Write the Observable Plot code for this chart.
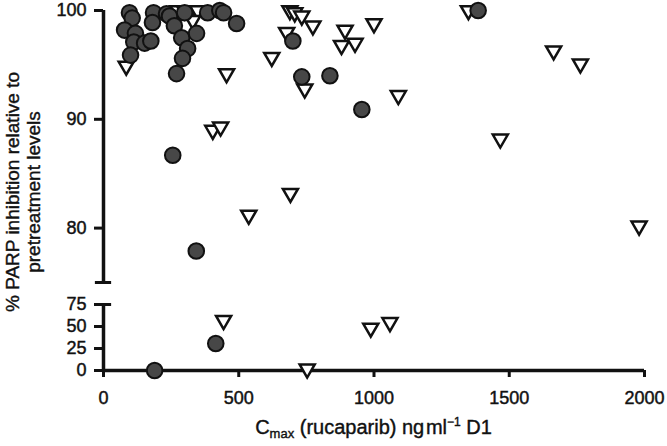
<!DOCTYPE html>
<html>
<head>
<meta charset="utf-8">
<script src="https://cdn.jsdelivr.net/npm/d3@7"></script>
<script src="https://cdn.jsdelivr.net/npm/@observablehq/plot@0.6"></script>
<style>
  body { margin: 0; background: #fff; }
  #wrap { position: relative; width: 667px; height: 446px; font-family: "Liberation Sans", Arial, sans-serif; color: #111; overflow: hidden; }
  #top, #bottom { position: absolute; left: 0; }
  #top { top: 0; }
  #bottom { top: 290px; }
  svg text { stroke: #111; stroke-width: 0.45px; }
  #xlabel { position: absolute; left: 103px; width: 541px; top: 415px; text-align: center; font-size: 20px; line-height: 24px; -webkit-text-stroke: 0.4px #111; }
  #xlabel sub { font-size: 13px; vertical-align: -4px; line-height: 0; }
  #xlabel sup { font-size: 12px; vertical-align: 8px; line-height: 0; }
  #ylabel { position: absolute; width: 320px; height: 42px; left: -137px; top: 171px; text-align: center;
            font-size: 19px; line-height: 21px; transform: rotate(-90deg); transform-origin: 50% 50%; white-space: nowrap; -webkit-text-stroke: 0.4px #111; }
</style>
</head>
<body>
<div id="wrap">
  <div id="top"></div>
  <div id="bottom"></div>
  <div id="ylabel">% PARP inhibition relative to<br>pretreatment levels</div>
  <div id="xlabel">C<sub>max</sub> (rucaparib) ng&#8202;ml<sup>−1</sup> D1</div>
</div>
<script>
// Filled circles (series 1): Cmax (ng/ml) and % PARP inhibition
const circleX = [96, 106, 78, 118, 112, 152, 175, 100, 185, 181, 233, 244, 262, 289, 311, 292, 270, 344, 300, 385, 430, 444, 492, 700, 733, 837, 955, 256, 343, 1385, 189, 415];
const circleY = [99.8, 99.3, 98.2, 97.9, 97.1, 97.0, 97.2, 95.9, 99.8, 98.9, 99.7, 99.5, 98.6, 97.5, 96.5, 95.6, 94.2, 97.9, 99.8, 99.8, 100, 99.8, 98.8, 97.2, 93.9, 94.0, 90.9, 86.7, 77.9, 100, 0, 30.7];

// Open inverted triangles (series 2)
const triX = [84, 274, 300, 326, 348, 330, 455, 404, 433, 622, 689, 707, 733, 774, 677, 744, 893, 880, 930, 1000, 1090, 1349, 1664, 1763, 1467, 537, 691, 1980, 444, 988, 1059, 753];
const triY = [94.9, 100, 100, 100, 100, 99.1, 94.2, 89.0, 89.3, 95.7, 100, 99.8, 99.5, 98.6, 98.0, 92.8, 98.2, 96.8, 97.0, 98.8, 92.2, 100, 96.3, 95.1, 88.2, 81.2, 83.2, 80.2, 57, 48.3, 54.6, 1.9];

// Axes (broken y axis: lower panel 0–75, upper panel 75–100)
const xDomain = [0, 2000];
const xTicks = [0, 500, 1000, 1500, 2000];
const lowerPanel = [0, 75];
const upperPanel = [75, 100];
const lowerTicks = [0, 25, 50, 75];
const upperTicks = [80, 90, 100];
const capHalf = 30;

const circles = circleX.map((x, i) => ({x, y: circleY[i]}));
const tris = triX.map((x, i) => ({x, y: triY[i]}));
const inUpper = d => d.y >= upperPanel[0];
const inLower = d => d.y < upperPanel[0];

const sqrt3 = Math.sqrt(3);
const triangleDown = {
  draw(context, size) {
    const y = Math.sqrt(size / (sqrt3 * 3));
    context.moveTo(0, y * 2);
    context.lineTo(-sqrt3 * y, -y);
    context.lineTo(sqrt3 * y, -y);
    context.closePath();
  }
};

const common = {
  width: 667,
  marginLeft: 103,
  marginRight: 23,
  style: {fontFamily: "Liberation Sans, Arial, sans-serif", fontSize: "18px", color: "#111", background: "transparent", overflow: "visible"},
  x: {domain: xDomain, axis: null}
};
const dotMarks = (filter) => [
  Plot.dot(tris.filter(filter), {x: "x", y: "y", symbol: triangleDown, r: 5.6, fill: "white", stroke: "#111", strokeWidth: 2.5}),
  Plot.dot(circles.filter(filter), {x: "x", y: "y", r: 7.8, fill: "#474747", stroke: "#111", strokeWidth: 2})
];

const topPlot = Plot.plot({
  ...common,
  height: 290,
  marginTop: 10,
  marginBottom: 8,
  y: {domain: upperPanel, axis: null},
  marks: [
    Plot.axisY(upperTicks, {anchor: "left", tickSize: 9, tickPadding: 8, strokeWidth: 3, fontSize: 18, label: null}),
    Plot.ruleX([xDomain[0]], {y1: upperPanel[0], y2: upperPanel[1], strokeWidth: 3.5, stroke: "#111"}),
    Plot.ruleY([upperPanel[0]], {x1: -capHalf, x2: capHalf, strokeWidth: 3, stroke: "#111"}),
    ...dotMarks(inUpper)
  ]
});

const bottomPlot = Plot.plot({
  ...common,
  height: 120,
  marginTop: 14,
  marginBottom: 40,
  y: {domain: lowerPanel, axis: null},
  marks: [
    Plot.axisY(lowerTicks, {anchor: "left", tickSize: 9, tickPadding: 8, strokeWidth: 3, fontSize: 18, label: null}),
    Plot.axisX(xTicks, {anchor: "bottom", tickSize: 7, tickPadding: 14, strokeWidth: 3, fontSize: 18, label: null, tickFormat: d3.format("d")}),
    Plot.ruleX([xDomain[0]], {y1: lowerPanel[0], y2: lowerPanel[1], strokeWidth: 3.5, stroke: "#111"}),
    Plot.ruleY([lowerPanel[1]], {x1: -capHalf, x2: capHalf, strokeWidth: 3, stroke: "#111"}),
    Plot.ruleY([lowerPanel[0]], {x1: xDomain[0], x2: xDomain[1], strokeWidth: 3.5, stroke: "#111"}),
    ...dotMarks(inLower)
  ]
});

document.getElementById("top").appendChild(topPlot);
document.getElementById("bottom").appendChild(bottomPlot);
</script>
</body>
</html>
